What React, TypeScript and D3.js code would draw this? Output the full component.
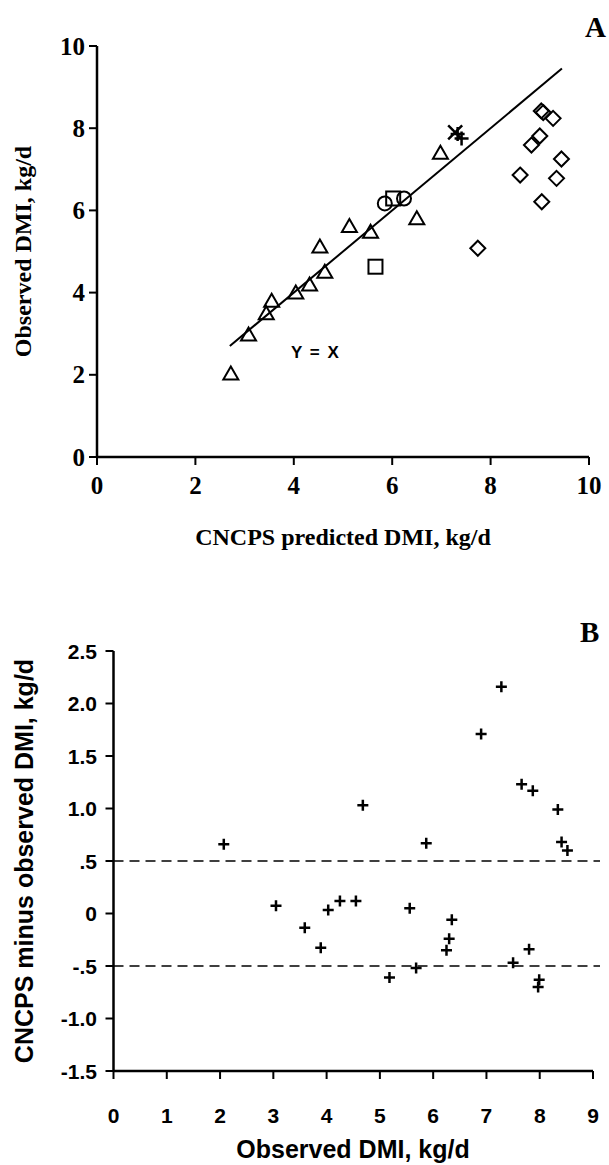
import React from "react";
import * as d3 from "d3";

// ---------- Panel A data ----------
const triangles: [number, number][] = [
  [2.72, 2.03], [3.08, 2.98], [3.44, 3.5], [3.55, 3.8], [4.04, 4.0], [4.32, 4.2],
  [4.63, 4.51], [4.53, 5.12], [5.13, 5.62], [5.56, 5.48], [6.5, 5.81], [6.98, 7.4],
];
const squares: [number, number][] = [[5.66, 4.63], [6.02, 6.29]];
const circles: [number, number][] = [[5.85, 6.17], [6.24, 6.29]];
const stars: [number, number][] = [[7.28, 7.9]];
const crossesA: [number, number][] = [[7.33, 7.86], [7.41, 7.75]];
const diamonds: [number, number][] = [
  [7.74, 5.08], [8.6, 6.86], [8.83, 7.59], [9.0, 7.81], [9.03, 8.42], [9.07, 8.38],
  [9.27, 8.24], [9.44, 7.25], [9.34, 6.78], [9.04, 6.21],
];
const identityLine: [number, number][] = [[2.7, 2.7], [9.45, 9.45]];
const ticksAx = [0, 2, 4, 6, 8, 10];
const ticksAy = [0, 2, 4, 6, 8, 10];

// ---------- Panel B data ----------
const residuals: [number, number][] = [
  [2.07, 0.66], [3.05, 0.074], [3.59, -0.135], [3.89, -0.325], [4.03, 0.033],
  [4.25, 0.12], [4.55, 0.12], [4.68, 1.03], [5.18, -0.61], [5.56, 0.05],
  [5.68, -0.52], [5.87, 0.67], [6.25, -0.35], [6.3, -0.24], [6.35, -0.06],
  [7.5, -0.47], [7.8, -0.34], [7.99, -0.63], [7.97, -0.7], [7.66, 1.23],
  [7.87, 1.17], [8.34, 0.99], [8.41, 0.68], [8.52, 0.6], [7.28, 2.16], [6.9, 1.71],
];
const ticksBx = [0, 1, 2, 3, 4, 5, 6, 7, 8, 9];
const ticksBy = [2.5, 2.0, 1.5, 1.0, 0.5, 0, -0.5, -1.0, -1.5];
const ticksByLabels = ["2.5", "2.0", "1.5", "1.0", ".5", "0", "-.5", "-1.0", "-1.5"];
const limitLines = [0.5, -0.5];

const serif = "'Liberation Serif', 'Times New Roman', serif";
const sans = "'Liberation Sans', Arial, sans-serif";

export default function App() {
  const xA = d3.scaleLinear().domain([0, 10]).range([97, 589]);
  const yA = d3.scaleLinear().domain([0, 10]).range([457, 46]);
  const xB = d3.scaleLinear().domain([0, 9]).range([113.5, 593]);
  const yB = d3.scaleLinear().domain([-1.5, 2.5]).range([1071, 651]);
  const line = d3.line<[number, number]>().x((d) => xA(d[0])).y((d) => yA(d[1]));

  const mk = { fill: "none", stroke: "#000", strokeWidth: 2 };

  return (
    <div style={{ position: "absolute", left: 0, top: 0 }}>
      <svg width={609} height={1165} style={{ display: "block", background: "#fff" }}>
        <rect x={0} y={0} width={609} height={1165} fill="#fff" />
        {/* ================= Panel A ================= */}
        <text x={585} y={37} fontFamily={serif} fontWeight="bold" fontSize={29}>A</text>
        <line x1={xA(0)} x2={xA(0)} y1={yA(10)} y2={yA(0)} stroke="#000" strokeWidth={2.5} />
        <line x1={xA(0)} x2={xA(10)} y1={yA(0)} y2={yA(0)} stroke="#000" strokeWidth={2.5} />
        {ticksAy.map((t) => (
          <g key={"ay" + t}>
            <line x1={xA(0) - 8} x2={xA(0)} y1={yA(t)} y2={yA(t)} stroke="#000" strokeWidth={2} />
            <text x={85} y={yA(t) + 8.5} textAnchor="end" fontFamily={serif} fontWeight="bold" fontSize={25}>{t}</text>
          </g>
        ))}
        {ticksAx.map((t) => (
          <g key={"ax" + t}>
            <line x1={xA(t)} x2={xA(t)} y1={yA(0)} y2={yA(0) + 8} stroke="#000" strokeWidth={2} />
            <text x={xA(t)} y={494} textAnchor="middle" fontFamily={serif} fontWeight="bold" fontSize={25}>{t}</text>
          </g>
        ))}
        <text x={343} y={545} textAnchor="middle" fontFamily={serif} fontWeight="bold" fontSize={24}>CNCPS predicted DMI, kg/d</text>
        <text transform={`translate(31, ${(yA(0) + yA(10)) / 2}) rotate(-90)`} textAnchor="middle" fontFamily={serif} fontWeight="bold" fontSize={24}>Observed DMI, kg/d</text>
        <path d={line(identityLine) || ""} fill="none" stroke="#000" strokeWidth={2} />
        <text x={291} y={358} fontFamily={sans} fontWeight="bold" fontSize={17} letterSpacing={1.5}>Y = X</text>
        {triangles.map(([x, y], i) => (
          <path key={"t" + i} transform={`translate(${xA(x)},${yA(y)})`} d="M0,-7L7.5,6L-7.5,6Z" {...mk} />
        ))}
        {squares.map(([x, y], i) => (
          <rect key={"s" + i} x={xA(x) - 7} y={yA(y) - 7} width={14} height={14} {...mk} />
        ))}
        {circles.map(([x, y], i) => (
          <circle key={"c" + i} cx={xA(x)} cy={yA(y)} r={7} {...mk} />
        ))}
        {stars.map(([x, y], i) => (
          <path key={"st" + i} transform={`translate(${xA(x)},${yA(y)})`} d="M-7,-7L7,7M-7,7L7,-7" fill="none" stroke="#000" strokeWidth={2.5} />
        ))}
        {crossesA.map(([x, y], i) => (
          <path key={"xa" + i} transform={`translate(${xA(x)},${yA(y)})`} d="M-7,0L7,0M0,-7L0,7" fill="none" stroke="#000" strokeWidth={2.5} />
        ))}
        {diamonds.map(([x, y], i) => (
          <path key={"d" + i} transform={`translate(${xA(x)},${yA(y)})`} d="M0,-7.5L7.5,0L0,7.5L-7.5,0Z" {...mk} />
        ))}

        {/* ================= Panel B ================= */}
        <text x={580} y={642} fontFamily={serif} fontWeight="bold" fontSize={29}>B</text>
        <line x1={xB(0)} x2={xB(0)} y1={yB(2.5)} y2={yB(-1.5)} stroke="#000" strokeWidth={2.5} />
        <line x1={xB(0)} x2={xB(9)} y1={yB(-1.5)} y2={yB(-1.5)} stroke="#000" strokeWidth={2.5} />
        {ticksBy.map((t, i) => (
          <g key={"by" + i}>
            <line x1={xB(0) - 8} x2={xB(0)} y1={yB(t)} y2={yB(t)} stroke="#000" strokeWidth={2} />
            <text x={97} y={yB(t) + 7.5} textAnchor="end" fontFamily={sans} fontWeight="bold" fontSize={21}>{ticksByLabels[i]}</text>
          </g>
        ))}
        {ticksBx.map((t) => (
          <g key={"bx" + t}>
            <line x1={xB(t)} x2={xB(t)} y1={yB(-1.5)} y2={yB(-1.5) + 8} stroke="#000" strokeWidth={2} />
            <text x={xB(t)} y={1123} textAnchor="middle" fontFamily={sans} fontWeight="bold" fontSize={21}>{t}</text>
          </g>
        ))}
        {limitLines.map((v) => (
          <line key={"ll" + v} x1={xB(0)} x2={600} y1={yB(v)} y2={yB(v)} stroke="#000" strokeWidth={1.5} strokeDasharray="10,6" />
        ))}
        <text x={353} y={1158} textAnchor="middle" fontFamily={sans} fontWeight="bold" fontSize={25}>Observed DMI, kg/d</text>
        <text transform={`translate(33, ${(yB(2.5) + yB(-1.5)) / 2}) rotate(-90)`} textAnchor="middle" fontFamily={sans} fontWeight="bold" fontSize={25}>CNCPS minus observed DMI, kg/d</text>
        {residuals.map(([x, y], i) => (
          <path key={"r" + i} transform={`translate(${xB(x)},${yB(y)})`} d="M-5.5,0L5.5,0M0,-5.5L0,5.5" fill="none" stroke="#000" strokeWidth={2.5} />
        ))}
      </svg>
    </div>
  );
}
